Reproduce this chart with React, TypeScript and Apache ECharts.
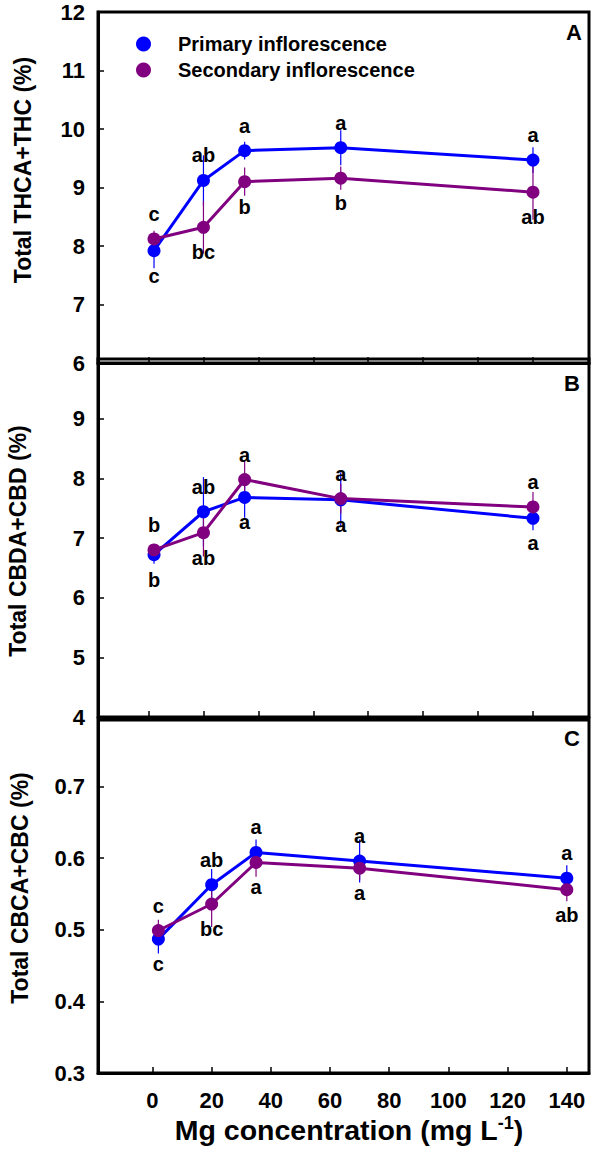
import React, { useEffect, useRef } from "react";
import * as echarts from "echarts";

// Mg treatments (mg L-1)
const MG = [2, 20, 35, 70, 140];

// Panel A: total THCA+THC (%)
const THC_PRIMARY = [7.92, 9.12, 9.63, 9.68, 9.47];
const THC_PRIMARY_SE = [0.3, 0.43, 0.15, 0.3, 0.22];
const THC_SECONDARY = [8.12, 8.32, 9.1, 9.16, 8.92];
const THC_SECONDARY_SE = [0.14, 0.45, 0.24, 0.2, 0.47];
const THC_PRIMARY_LETTERS = ["c", "ab", "a", "a", "a"];
const THC_SECONDARY_LETTERS = ["c", "bc", "b", "b", "ab"];

// Panel B: total CBDA+CBD (%)
const CBD_PRIMARY = [6.72, 7.44, 7.68, 7.64, 7.33];
const CBD_PRIMARY_SE = [0.15, 0.58, 0.34, 0.46, 0.2];
const CBD_SECONDARY = [6.8, 7.09, 7.98, 7.66, 7.52];
const CBD_SECONDARY_SE = [0.1, 0.4, 0.32, 0.25, 0.25];
const CBD_PRIMARY_LETTERS = ["b", "ab", "a", "a", "a"];
const CBD_SECONDARY_LETTERS = ["b", "ab", "a", "a", "a"];

// Panel C: total CBCA+CBC (%)
const CBC_PRIMARY = [0.487, 0.563, 0.608, 0.596, 0.572];
const CBC_PRIMARY_SE = [0.02, 0.022, 0.018, 0.03, 0.018];
const CBC_SECONDARY = [0.499, 0.536, 0.594, 0.586, 0.556];
const CBC_SECONDARY_SE = [0.015, 0.032, 0.02, 0.016, 0.016];
const CBC_PRIMARY_LETTERS = ["c", "ab", "a", "a", "a"];
const CBC_SECONDARY_LETTERS = ["c", "bc", "a", "a", "ab"];

// which side of the point each letter goes (1 = above, -1 = below)
const THC_PRIMARY_SIDE = [-1, 1, 1, 1, 1];
const THC_SECONDARY_SIDE = [1, -1, -1, -1, -1];
const CBD_PRIMARY_SIDE = [-1, 1, -1, -1, -1];
const CBD_SECONDARY_SIDE = [1, -1, 1, 1, 1];
const CBC_PRIMARY_SIDE = [-1, 1, 1, 1, 1];
const CBC_SECONDARY_SIDE = [1, -1, -1, -1, -1];

const X_TICKS = [0, 20, 40, 60, 80, 100, 120, 140];
const THC_TICKS = [6, 7, 8, 9, 10, 11, 12];
const CBD_TICKS = [4, 5, 6, 7, 8, 9];
const CBC_TICKS = [0.3, 0.4, 0.5, 0.6, 0.7];

const PRIMARY = "Primary inflorescence";
const SECONDARY = "Secondary inflorescence";
const BLUE = "#0000ff";
const PURPLE = "#800080";
const FONT = "'Liberation Sans', Arial, sans-serif";

type Panel = {
  title: string;
  tag: string;
  primary: number[];
  primarySe: number[];
  primaryLetters: string[];
  primarySide: number[];
  secondary: number[];
  secondarySe: number[];
  secondaryLetters: string[];
  secondarySide: number[];
  ticks: number[];
  yMin: number;
  yMax: number;
  xMax: number;
  digits: number;
  grid: { top: number; height: number };
  titlePos: [number, number];
  tagPos: [number, number];
};

const PANELS: Panel[] = [
  {
    title: "Total THCA+THC (%)",
    tag: "A",
    primary: THC_PRIMARY,
    primarySe: THC_PRIMARY_SE,
    primaryLetters: THC_PRIMARY_LETTERS,
    primarySide: THC_PRIMARY_SIDE,
    secondary: THC_SECONDARY,
    secondarySe: THC_SECONDARY_SE,
    secondaryLetters: THC_SECONDARY_LETTERS,
    secondarySide: THC_SECONDARY_SIDE,
    ticks: THC_TICKS,
    yMin: 6,
    yMax: 12,
    xMax: 160.4,
    digits: 0,
    grid: { top: 12, height: 351 },
    titlePos: [23, 170],
    tagPos: [574, 32],
  },
  {
    title: "Total CBDA+CBD (%)",
    tag: "B",
    primary: CBD_PRIMARY,
    primarySe: CBD_PRIMARY_SE,
    primaryLetters: CBD_PRIMARY_LETTERS,
    primarySide: CBD_PRIMARY_SIDE,
    secondary: CBD_SECONDARY,
    secondarySe: CBD_SECONDARY_SE,
    secondaryLetters: CBD_SECONDARY_LETTERS,
    secondarySide: CBD_SECONDARY_SIDE,
    ticks: CBD_TICKS,
    yMin: 4,
    yMax: 10,
    xMax: 160.4,
    digits: 0,
    grid: { top: 359, height: 358 },
    titlePos: [18, 541],
    tagPos: [572, 383],
  },
  {
    title: "Total CBCA+CBC (%)",
    tag: "C",
    primary: CBC_PRIMARY,
    primarySe: CBC_PRIMARY_SE,
    primaryLetters: CBC_PRIMARY_LETTERS,
    primarySide: CBC_PRIMARY_SIDE,
    secondary: CBC_SECONDARY,
    secondarySe: CBC_SECONDARY_SE,
    secondaryLetters: CBC_SECONDARY_LETTERS,
    secondarySide: CBC_SECONDARY_SIDE,
    ticks: CBC_TICKS,
    yMin: 0.3,
    yMax: 0.793,
    xMax: 147.5,
    digits: 1,
    grid: { top: 720, height: 353 },
    titlePos: [20, 888],
    tagPos: [572, 738],
  },
];

const LETTER_OFFSET = 25;

function errorSeries(
  name: string,
  gridIdx: number,
  means: number[],
  se: number[],
  letters: string[],
  side: number[],
  color: string
) {
  return {
    type: "custom",
    name,
    xAxisIndex: gridIdx,
    yAxisIndex: gridIdx,
    z: 1,
    clip: false,
    silent: true,
    data: MG.map((x, i) => [x, means[i], se[i], side[i]]),
    renderItem: (params: any, api: any) => {
      const x = api.value(0);
      const y = api.value(1);
      const e = api.value(2);
      const dir = api.value(3);
      const lo = api.coord([x, y - e]);
      const hi = api.coord([x, y + e]);
      const c = api.coord([x, y]);
      return {
        type: "group",
        children: [
          {
            type: "line",
            shape: { x1: lo[0], y1: lo[1], x2: hi[0], y2: hi[1] },
            style: { stroke: color, lineWidth: 1.2 },
          },
          {
            type: "text",
            x: c[0],
            y: c[1] - dir * LETTER_OFFSET,
            style: {
              text: letters[params.dataIndex],
              fill: "#000",
              fontSize: 20,
              fontWeight: "bold",
              fontFamily: FONT,
              align: "center",
              verticalAlign: "middle",
            },
          },
        ],
      };
    },
  };
}

function lineSeries(name: string, gridIdx: number, means: number[], color: string) {
  return {
    type: "line",
    name,
    xAxisIndex: gridIdx,
    yAxisIndex: gridIdx,
    z: 3,
    data: MG.map((x, i) => [x, means[i]]),
    symbol: "circle",
    symbolSize: 13,
    itemStyle: { color },
    lineStyle: { color, width: 3 },
  };
}

export default function App() {
  const ref = useRef<HTMLDivElement>(null);

  useEffect(() => {
    if (!ref.current) return;
    const chart = echarts.init(ref.current, undefined, { renderer: "svg" });

    const grids = PANELS.map((p) => ({
      left: 98,
      width: 491,
      top: p.grid.top,
      height: p.grid.height,
      show: true,
      borderColor: "#000",
      borderWidth: 3,
      backgroundColor: "transparent",
    }));

    const xAxes = PANELS.map((p, i) => ({
      type: "value",
      gridIndex: i,
      min: -18.4,
      max: p.xMax,
      splitLine: { show: false },
      axisLine: { show: true, onZero: false, lineStyle: { color: "#000", width: 3 } },
      axisTick: {
        show: true,
        inside: true,
        length: 6,
        customValues: X_TICKS,
        lineStyle: { color: "#000", width: 1.5 },
      },
      axisLabel: {
        show: i === 2,
        customValues: X_TICKS,
        margin: 16,
        color: "#000",
        fontSize: 22,
        fontWeight: "bold",
        fontFamily: FONT,
      },
    }));

    const yAxes = PANELS.map((p, i) => ({
      type: "value",
      gridIndex: i,
      min: p.yMin,
      max: p.yMax,
      splitLine: { show: false },
      axisLine: { show: true, onZero: false, lineStyle: { color: "#000", width: 3 } },
      axisTick: {
        show: true,
        inside: true,
        length: 6,
        customValues: p.ticks,
        lineStyle: { color: "#000", width: 1.5 },
      },
      axisLabel: {
        customValues: p.ticks,
        margin: 13,
        color: "#000",
        fontSize: 22,
        fontWeight: "bold",
        fontFamily: FONT,
        formatter: (v: number) => v.toFixed(p.digits),
      },
    }));

    const series: any[] = [];
    PANELS.forEach((p, i) => {
      series.push(
        errorSeries(PRIMARY + " SE " + i, i, p.primary, p.primarySe, p.primaryLetters, p.primarySide, BLUE),
        errorSeries(SECONDARY + " SE " + i, i, p.secondary, p.secondarySe, p.secondaryLetters, p.secondarySide, PURPLE),
        lineSeries(PRIMARY, i, p.primary, BLUE),
        lineSeries(SECONDARY, i, p.secondary, PURPLE)
      );
    });

    const graphics: any[] = [];
    PANELS.forEach((p) => {
      graphics.push({
        type: "text",
        x: p.titlePos[0],
        y: p.titlePos[1],
        rotation: Math.PI / 2,
        style: {
          text: p.title,
          fill: "#000",
          fontSize: 23,
          fontWeight: "bold",
          fontFamily: FONT,
          align: "center",
          verticalAlign: "middle",
        },
      });
      graphics.push({
        type: "text",
        x: p.tagPos[0],
        y: p.tagPos[1],
        style: {
          text: p.tag,
          fill: "#000",
          fontSize: 22,
          fontWeight: "bold",
          fontFamily: FONT,
          align: "center",
          verticalAlign: "middle",
        },
      });
    });
    graphics.push({
      type: "text",
      x: 349,
      y: 1130,
      style: {
        text: "{m|Mg concentration (mg L}{s|-1}{m|)}",
        fill: "#000",
        align: "center",
        verticalAlign: "middle",
        rich: {
          m: { fontSize: 28.5, fontWeight: "bold", fontFamily: FONT, lineHeight: 32 },
          s: { fontSize: 18, fontWeight: "bold", fontFamily: FONT, verticalAlign: "top", lineHeight: 32 },
        },
      },
    });

    chart.setOption({
      animation: false,
      backgroundColor: "#fff",
      grid: grids,
      xAxis: xAxes,
      yAxis: yAxes,
      legend: {
        data: [PRIMARY, SECONDARY],
        orient: "vertical",
        left: 131,
        top: 29,
        icon: "circle",
        itemWidth: 15,
        itemHeight: 15,
        itemGap: 6,
        selectedMode: false,
        textStyle: {
          color: "#000",
          fontSize: 20,
          fontWeight: "bold",
          fontFamily: FONT,
          padding: [0, 0, 0, 22],
        },
      },
      graphic: graphics,
      series,
    });

    return () => chart.dispose();
  }, []);

  return (
    <div
      ref={ref}
      style={{ position: "absolute", left: 0, top: 0, width: 594, height: 1157 }}
    />
  );
}
